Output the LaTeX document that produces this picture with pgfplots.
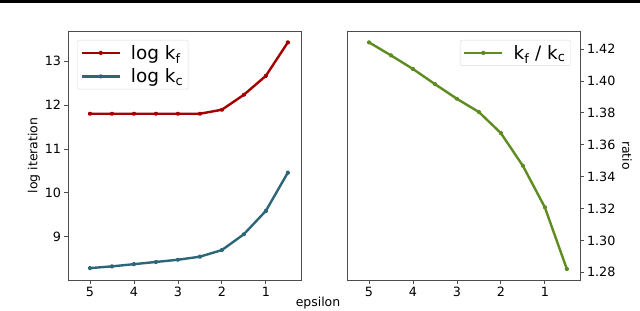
\documentclass[border=0pt]{standalone}
\usepackage{fontspec}
\setmainfont{DejaVu Sans}
\usepackage{pgfplots}
\pgfplotsset{compat=1.18}
\definecolor{cred}{HTML}{A30000}
\definecolor{cblue}{HTML}{2C6679}
\definecolor{cgreen}{HTML}{5F8C21}
\pgfplotsset{
  myaxis/.style={
    scale only axis, width=233bp, height=249bp,
    x dir=reverse, xmin=0.2, xmax=5.5, xtick={1,2,3,4,5},
    axis line style={draw=black!70, line width=0.8bp},
    tick style={black!70, line width=0.8bp},
    tick align=outside, major tick length=3.5bp,
    xtick pos=bottom,
    ticklabel style={font=\fontsize{12.8}{15}\selectfont},
    /pgf/number format/assume math mode=true,
    label style={font=\fontsize{12.5}{15}\selectfont},
    legend style={font=\fontsize{18.5}{22}\selectfont, draw=black!15, rounded corners=2bp, fill=white, inner xsep=3bp, inner ysep=3bp, row sep=4bp, cells={anchor=west},
      /tikz/every odd column/.append style={column sep=8bp}},
    legend image code/.code={\draw[mark repeat=2,mark phase=2] plot coordinates {(0bp,0bp) (19bp,0bp) (38bp,0bp)};},
    every axis plot/.append style={line width=2.4bp, line join=round, mark=*, mark size=1.1bp},
  }
}
\begin{document}
\begin{tikzpicture}
\useasboundingbox (0,0) rectangle (640bp,311bp);
\fill[black] (0,307.5bp) rectangle (640bp,311bp);
\begin{axis}[myaxis, at={(68bp,31bp)}, anchor=south west,
  ymin=8.02, ymax=13.68, ytick={9,10,11,12,13}, ytick pos=left,
  ylabel={log iteration}, ylabel style={yshift=-2bp},
  legend style={at={(rel axis cs:0.04,0.964)}, anchor=north west}]
\addplot[cred, mark options={fill=cred}] coordinates {(5,11.80) (4.5,11.80) (4,11.80) (3.5,11.80) (3,11.80) (2.5,11.80) (2,11.89) (1.5,12.23) (1,12.66) (0.5,13.42)};
\addlegendentry{log k\textsubscript{f}}
\addplot[cblue, mark options={fill=cblue}] coordinates {(5,8.29) (4.5,8.33) (4,8.38) (3.5,8.43) (3,8.48) (2.5,8.55) (2,8.70) (1.5,9.06) (1,9.59) (0.5,10.46)};
\addlegendentry{log k\textsubscript{c}}
\end{axis}
\begin{axis}[myaxis, at={(347bp,31bp)}, anchor=south west,
  ymin=1.2752, ymax=1.4313, ytick={1.28,1.30,...,1.43}, ytick pos=right, yticklabel pos=right,
  yticklabel style={/pgf/number format/.cd, fixed, fixed zerofill, precision=2},
  ylabel={ratio}, ylabel style={rotate=180},
  legend style={at={(rel axis cs:0.96,0.964)}, anchor=north east}]
\addplot[cgreen, mark options={fill=cgreen}] coordinates {(5,1.4242) (4.5,1.4160) (4,1.4075) (3.5,1.3980) (3,1.3888) (2.5,1.3805) (2,1.3673) (1.5,1.3468) (1,1.3208) (0.5,1.2821)};
\addlegendentry{k\textsubscript{f} / k\textsubscript{c}}
\end{axis}
\node[font=\fontsize{12.5}{15}\selectfont] at (318bp,8bp) {epsilon};
\end{tikzpicture}
\end{document}
